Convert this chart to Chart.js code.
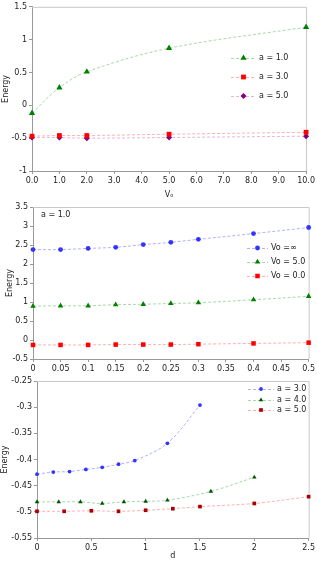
<!DOCTYPE html>
<html>
<head>
  <script src="https://cdn.jsdelivr.net/npm/chart.js@4.4.1/dist/chart.umd.min.js"></script>
<style>
  body { margin: 0; background: #fff; }
  .box { position: absolute; left: 0; width: 317px; }
</style>
</head>
<body>
  <div class="box" style="top:0px;height:200px"><canvas id="c1" width="317" height="200"></canvas></div>
  <div class="box" style="top:196px;height:180px"><canvas id="c2" width="317" height="180"></canvas></div>
  <div class="box" style="top:374px;height:187px"><canvas id="c3" width="317" height="187"></canvas></div>
  <script>
    // chart 1 : energy vs Vo
    var vo = [0, 1, 2, 5, 10];
    var eA1 = [-0.12, 0.27, 0.51, 0.87, 1.19];
    var eA3 = [-0.47, -0.46, -0.46, -0.44, -0.41];
    var eA5 = [-0.49, -0.49, -0.50, -0.49, -0.47];

    // chart 2 : a = 1.0, energy vs d
    var d2 = [0, 0.05, 0.1, 0.15, 0.2, 0.25, 0.3, 0.4, 0.5];
    var eInf = [2.38, 2.38, 2.41, 2.44, 2.51, 2.57, 2.65, 2.80, 2.96];
    var eV5 = [0.89, 0.90, 0.90, 0.93, 0.94, 0.96, 0.98, 1.06, 1.15];
    var eV0 = [-0.13, -0.13, -0.13, -0.12, -0.12, -0.12, -0.11, -0.09, -0.07];

    // chart 3 : energy vs d for several a
    var dA3 = [0, 0.15, 0.3, 0.45, 0.6, 0.75, 0.9, 1.2, 1.5];
    var fA3 = [-0.428, -0.424, -0.423, -0.419, -0.415, -0.409, -0.402, -0.369, -0.296];
    var dA4 = [0, 0.2, 0.4, 0.6, 0.8, 1.0, 1.2, 1.6, 2.0];
    var fA4 = [-0.481, -0.481, -0.481, -0.484, -0.481, -0.480, -0.478, -0.461, -0.434];
    var dA5 = [0, 0.25, 0.5, 0.75, 1.0, 1.25, 1.5, 2.0, 2.5];
    var fA5 = [-0.499, -0.499, -0.498, -0.499, -0.497, -0.494, -0.490, -0.484, -0.471];

    var FONT = "'DejaVu Sans', Verdana, sans-serif";

    function pts(xs, ys) {
      return xs.map(function (x, i) { return { x: x, y: ys[i] }; });
    }

    function serie(label, xs, ys, line, mark, style, r) {
      return {
        label: label, data: pts(xs, ys),
        borderColor: line, borderWidth: 1, borderDash: [3, 2],
        pointStyle: style, pointRadius: r, pointHoverRadius: r,
        pointBackgroundColor: mark, pointBorderColor: mark, pointBorderWidth: 0,
        tension: 0.35, clip: false, fill: false
      };
    }

    function drawMarker(ctx, style, x, y, r, color) {
      ctx.fillStyle = color;
      ctx.beginPath();
      if (style === 'triangle') {
        ctx.moveTo(x, y - r);
        ctx.lineTo(x + r * 0.866, y + r * 0.5);
        ctx.lineTo(x - r * 0.866, y + r * 0.5);
        ctx.closePath();
      } else if (style === 'rect') {
        var h = r * Math.SQRT1_2;
        ctx.rect(x - h, y - h, 2 * h, 2 * h);
      } else if (style === 'rectRot') {
        ctx.moveTo(x, y - r); ctx.lineTo(x + r, y); ctx.lineTo(x, y + r); ctx.lineTo(x - r, y);
        ctx.closePath();
      } else {
        ctx.arc(x, y, r, 0, Math.PI * 2);
      }
      ctx.fill();
    }

    var lineLegend = {
      id: 'lineLegend',
      afterDatasetsDraw: function (chart, args, o) {
        if (!o.ys) return;
        var ctx = chart.ctx;
        ctx.save();
        chart.data.datasets.forEach(function (ds, i) {
          var y = o.ys[i];
          ctx.strokeStyle = ds.borderColor; ctx.lineWidth = 1; ctx.setLineDash([3, 2]);
          ctx.beginPath(); ctx.moveTo(o.x0, y + 0.5); ctx.lineTo(o.x1, y + 0.5); ctx.stroke();
          ctx.setLineDash([]);
          drawMarker(ctx, ds.pointStyle, (o.x0 + o.x1) / 2, y, ds.pointRadius, ds.pointBackgroundColor);
          ctx.fillStyle = '#222'; ctx.font = o.size + 'px ' + FONT;
          ctx.textBaseline = 'middle'; ctx.textAlign = 'left';
          ctx.fillText(ds.label, o.tx, y);
        });
        if (o.note) {
          ctx.fillStyle = '#222'; ctx.font = o.size + 'px ' + FONT;
          ctx.fillText(o.note, chart.chartArea.left + 8, chart.chartArea.top + 8);
        }
        ctx.restore();
      }
    };

    var frame = {
      id: 'frame',
      beforeDatasetsDraw: function (chart) {
        var a = chart.chartArea, ctx = chart.ctx;
        ctx.save();
        ctx.strokeStyle = '#c8c8c8'; ctx.lineWidth = 1;
        ctx.beginPath();
        ctx.moveTo(a.left, a.top + 0.5); ctx.lineTo(a.right + 0.5, a.top + 0.5); ctx.lineTo(a.right + 0.5, a.bottom);
        ctx.stroke();
        ctx.restore();
      }
    };

    function num(v) { return String(Math.round(v * 1000) / 1000); }

    function makeChart(id, datasets, s) {
      return new Chart(document.getElementById(id), {
        type: 'line',
        data: { datasets: datasets },
        plugins: [frame, lineLegend],
        options: {
          responsive: false, animation: false, maintainAspectRatio: false,
          layout: { padding: { top: s.top, right: s.right, left: 0, bottom: 0 } },
          plugins: { legend: { display: false }, tooltip: { enabled: false }, lineLegend: s.legend },
          scales: {
            x: {
              type: 'linear', min: s.xmin, max: s.xmax,
              afterFit: function (sc) { sc.height = s.xh; },
              ticks: { stepSize: s.xstep, autoSkip: false, maxRotation: 0, padding: 2, color: '#222',
                       font: { family: FONT, size: s.fs }, callback: s.xfmt || num },
              grid: { drawOnChartArea: false, drawTicks: true, tickLength: 3, color: '#999' },
              border: { display: true, color: '#999' },
              title: { display: !!s.xtitle, text: s.xtitle, color: '#222', padding: { top: 0, bottom: 0 },
                       font: { family: FONT, size: s.fs } }
            },
            y: {
              min: s.ymin, max: s.ymax,
              afterFit: function (sc) { sc.width = s.yw; },
              ticks: { stepSize: s.ystep, padding: 2, color: '#222',
                       font: { family: FONT, size: s.fs }, callback: num },
              grid: { drawOnChartArea: false, drawTicks: true, tickLength: 3, color: '#999' },
              border: { display: true, color: '#999' },
              title: { display: true, text: 'Energy', color: '#222', padding: { top: s.ytp, bottom: 0 },
                       font: { family: FONT, size: s.fs } }
            }
          }
        }
      });
    }

    makeChart('c1', [
      serie('a = 1.0', vo, eA1, '#a8d8a8', '#008000', 'triangle', 3.6),
      serie('a = 3.0', vo, eA3, '#ffb0b0', '#ff0000', 'rect', 3.4),
      serie('a = 5.0', vo, eA5, '#e0b8e0', '#800080', 'rectRot', 3)
    ], {
      top: 4, right: 9, xh: 29, yw: 32, ytp: 1.2, fs: 8,
      xmin: 0, xmax: 10, xstep: 1, ymin: -1, ymax: 1.5, ystep: 0.5,
      xfmt: function (v) { return v.toFixed(1); }, xtitle: 'Vₒ',
      legend: { x0: 231, x1: 256, tx: 259, ys: [58, 77, 96], size: 8 }
    });

    makeChart('c2', [
      serie('Vo =∞', d2, eInf, '#b0b0ff', '#3333ff', 'circle', 2.4),
      serie('Vo = 5.0', d2, eV5, '#a8d8a8', '#008000', 'triangle', 3.2),
      serie('Vo = 0.0', d2, eV0, '#ffb0b0', '#ff0000', 'rect', 3.2)
    ], {
      top: 11, right: 6, xh: 17, yw: 33, ytp: 5.6, fs: 8,
      xmin: 0, xmax: 0.5, xstep: 0.05, ymin: -0.5, ymax: 3.5, ystep: 0.5,
      legend: { x0: 247, x1: 268, tx: 271, ys: [52, 66, 80], size: 8, note: 'a = 1.0' }
    });

    makeChart('c3', [
      serie('a = 3.0', dA3, fA3, '#b0b0ff', '#3333ff', 'circle', 1.9),
      serie('a = 4.0', dA4, fA4, '#a8d8a8', '#005500', 'triangle', 2.6),
      serie('a = 5.0', dA5, fA5, '#ffb0b0', '#aa0000', 'rect', 2.6)
    ], {
      top: 7, right: 8, xh: 23, yw: 37, ytp: 0, fs: 8,
      xmin: 0, xmax: 2.5, xstep: 0.5, ymin: -0.55, ymax: -0.25, ystep: 0.05, xtitle: 'd',
      legend: { x0: 248, x1: 274, tx: 277, ys: [15, 26, 36], size: 8 }
    });
  </script>
</body>
</html>
